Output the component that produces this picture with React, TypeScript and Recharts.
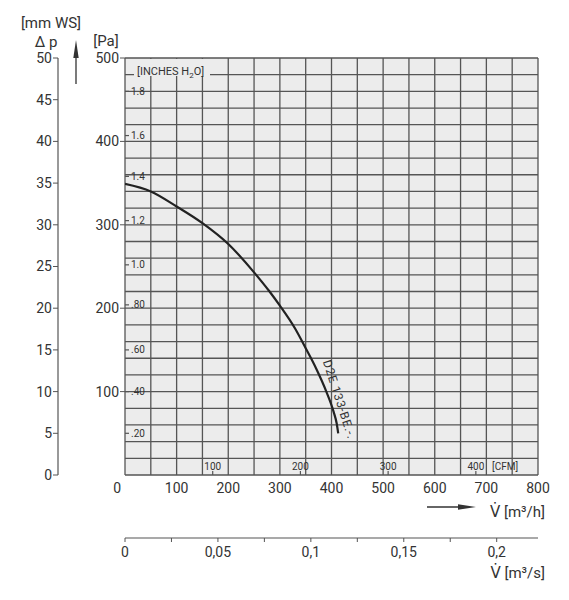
import { LineChart, Line, XAxis, YAxis, CartesianGrid, ReferenceLine, ReferenceDot } from 'recharts'

// fan curve: volume flow [m³/h] vs static pressure [Pa]
const flowM3h = [0, 50, 100, 150, 200, 250, 280, 300, 330, 350, 370, 390, 404, 410, 413]
const pressurePa = [349, 340, 322, 302, 277, 243, 220, 203, 175, 152, 128, 100, 76, 62, 50]

const flowTicks = [0, 100, 200, 300, 400, 500, 600, 700, 800]
const paTicks = [100, 200, 300, 400, 500]
const mmTicks = [0, 5, 10, 15, 20, 25, 30, 35, 40, 45, 50]
const m3sTicks = [0, 0.025, 0.05, 0.075, 0.1, 0.125, 0.15, 0.175, 0.2]
const m3sLabels = ['0', '', '0,05', '', '0,1', '', '0,15', '', '0,2']
const cfmTicks = [100, 200, 300, 400]
const inchLabels = ['.20', '.40', '.60', '.80', '1.0', '1.2', '1.4', '1.6', '1.8']
const inchTickPa = [50, 100, 150, 204, 252, 305, 358, 407, 460]

const gridPa = [0, 20, 40, 60, 80, 100, 120, 140, 160, 180, 200, 220, 240, 260, 280, 300, 320, 340, 360, 380, 400, 420, 440, 460, 480, 500]
const gridFlow = [0, 50, 100, 150, 200, 250, 300, 350, 400, 450, 500, 550, 600, 650, 700, 750, 800]

const curveName = 'D2E 133-BE.-.'

// unit conversions for the extra scales
const flowMax = 800
const m3sMax = flowMax / 3600
const cfmToM3h = 1.699

const curveData = flowM3h.map((q, i) => ({ q, s: q / 3600, pa: pressurePa[i] }))

const ink = '#333'
const gridInk = '#555'
const font = 'Roboto, "DejaVu Sans", sans-serif'

function FlowTick({ x, y, payload }: any) {
  const zero = payload.value === 0
  return (
    <text
      x={zero ? x - 4 : x}
      y={y}
      dy="0.71em"
      textAnchor={zero ? 'end' : 'middle'}
      fill={ink}
      fontSize={14}
      fontFamily={font}
    >
      {payload.value}
    </text>
  )
}

function CurveLabel({ cx, cy }: any) {
  return (
    <text
      x={cx}
      y={cy}
      transform={`rotate(72 ${cx} ${cy})`}
      fill={ink}
      fontSize={12}
      letterSpacing={0.8}
      fontFamily={font}
    >
      {curveName}
    </text>
  )
}

// small inch tick, drawn inside the plot from the left border
const InchTick = (label: string) => ({ cx, cy }: any) => (
  <g>
    <line x1={cx} y1={cy} x2={cx + 4} y2={cy} stroke={gridInk} strokeWidth={1.2} />
    <text x={cx + 6} y={cy} dy="0.35em" fill={ink} fontSize={10} fontFamily={font}>
      {label}
    </text>
  </g>
)

// small cfm tick, drawn inside the plot from the bottom border
const CfmTick = (label: number) => ({ cx, cy }: any) => (
  <g>
    <line x1={cx} y1={cy} x2={cx} y2={cy - 4} stroke={gridInk} strokeWidth={1.2} />
    <text x={cx} y={cy - 5} textAnchor="middle" fill={ink} fontSize={10} fontFamily={font}>
      {label}
    </text>
  </g>
)

export default function App() {
  const tickStyle = { fill: ink, fontSize: 14, fontFamily: font }

  // axis ids are ordered: p1 sits next to the plot, p2 further out
  return (
    <div style={{ position: 'absolute', left: 0, top: 0, width: 569, height: 600, background: '#fff' }}>
      <LineChart width={569} height={600} data={curveData} margin={{ top: 58, right: 31, bottom: 12, left: 8 }}>
        <CartesianGrid xAxisId="h" yAxisId="p1" fill="#ececec" stroke="none" horizontal={false} vertical={false} />
        {gridPa.map((v) => (
          <ReferenceLine key={`p${v}`} xAxisId="h" yAxisId="p1" y={v} stroke={gridInk} strokeWidth={1.3} />
        ))}
        {gridFlow.map((v) => (
          <ReferenceLine key={`f${v}`} xAxisId="h" yAxisId="p1" x={v} stroke={gridInk} strokeWidth={1.3} />
        ))}

        <XAxis
          xAxisId="h"
          type="number"
          dataKey="q"
          domain={[0, flowMax]}
          ticks={flowTicks}
          allowDataOverflow
          height={63}
          axisLine={false}
          tickLine={false}
          tickSize={0}
          tickMargin={8}
          tick={<FlowTick />}
        />
        <XAxis
          xAxisId="s"
          type="number"
          dataKey="s"
          domain={[0, m3sMax]}
          ticks={m3sTicks}
          allowDataOverflow
          interval={0}
          height={50}
          axisLine={{ stroke: gridInk, strokeWidth: 1.2 }}
          tickLine={{ stroke: gridInk }}
          tickSize={4}
          tickMargin={5}
          tick={tickStyle}
          tickFormatter={(v: number) => m3sLabels[m3sTicks.indexOf(v)] ?? ''}
        />
        <YAxis
          yAxisId="p1"
          dataKey="pa"
          domain={[0, 500]}
          ticks={paTicks}
          allowDataOverflow
          interval={0}
          width={67}
          axisLine={false}
          tickLine={{ stroke: gridInk }}
          tickSize={5}
          tickMargin={1}
          tick={tickStyle}
        />
        <YAxis
          yAxisId="p2"
          domain={[0, 50]}
          ticks={mmTicks}
          allowDataOverflow
          interval={0}
          width={50}
          axisLine={{ stroke: gridInk, strokeWidth: 1.2 }}
          tickLine={{ stroke: gridInk }}
          tickSize={5}
          tickMargin={1}
          tick={tickStyle}
        />

        {inchTickPa.map((v, i) => (
          <ReferenceDot key={`in${v}`} xAxisId="h" yAxisId="p1" x={0} y={v} r={0} shape={InchTick(inchLabels[i])} />
        ))}
        {cfmTicks.map((v) => (
          <ReferenceDot key={`cfm${v}`} xAxisId="h" yAxisId="p1" x={v * cfmToM3h} y={0} r={0} shape={CfmTick(v)} />
        ))}

        <Line
          xAxisId="h"
          yAxisId="p1"
          type="monotone"
          dataKey="pa"
          stroke="#222"
          strokeWidth={2.2}
          dot={false}
          isAnimationActive={false}
        />
        <ReferenceDot xAxisId="h" yAxisId="p1" x={383} y={136} r={0} shape={<CurveLabel />} />
      </LineChart>

      <svg
        width={569}
        height={600}
        style={{ position: 'absolute', left: 0, top: 0, pointerEvents: 'none' }}
        fontFamily={font}
        fill={ink}
      >
        <text x={51} y={28} fontSize={15} textAnchor="middle">[mm WS]</text>
        <text x={46} y={47} fontSize={15} textAnchor="middle">Δ p</text>
        <text x={106} y={46} fontSize={15} textAnchor="middle">[Pa]</text>
        <line x1={76} y1={84} x2={76} y2={55} stroke={ink} strokeWidth={1.3} />
        <polygon points="76,40 73.3,58 78.7,58" fill={ink} />

        <rect x={134} y={59} width={76} height={17} fill="#ececec" />
        <text x={137} y={75} fontSize={11}>
          [INCHES H<tspan fontSize={8} dy={3}>2</tspan>
          <tspan dy={-3}>O]</tspan>
        </text>
        <text x={492} y={470} fontSize={10}>[CFM]</text>

        <line x1={427} y1={507} x2={462} y2={507} stroke={ink} strokeWidth={1.3} />
        <polygon points="476,507 458,504.3 458,509.7" fill={ink} />
        <text x={545} y={517} fontSize={15} textAnchor="end">V̇ [m³/h]</text>
        <text x={545} y={578} fontSize={15} textAnchor="end">V̇ [m³/s]</text>
      </svg>
    </div>
  )
}
